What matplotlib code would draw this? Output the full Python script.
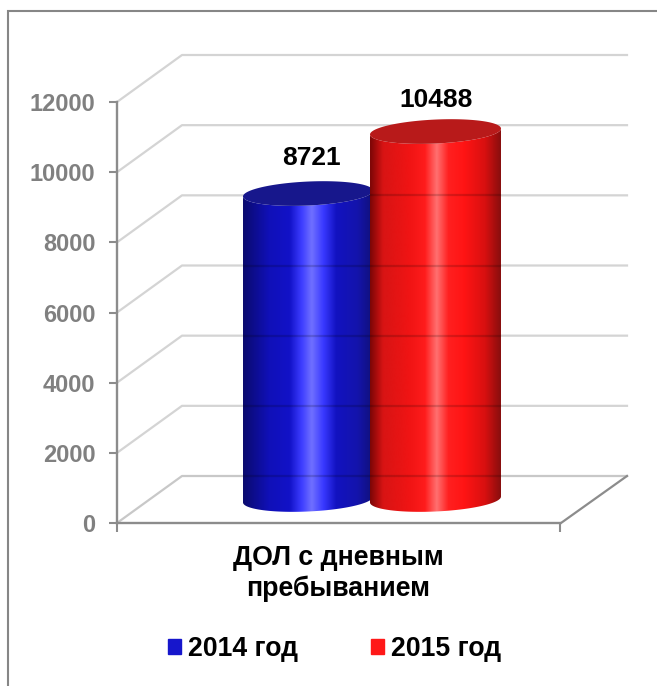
import numpy as np
import matplotlib
matplotlib.use("Agg")
import matplotlib.pyplot as plt
from matplotlib.colors import LinearSegmentedColormap
from matplotlib.patches import Patch, Polygon, Rectangle

# data
series = ["2014 год", "2015 год"]
values = [8721, 10488]
category = "ДОЛ с дневным\nпребыванием"
yticks = [0, 2000, 4000, 6000, 8000, 10000, 12000]

W, H = 657, 686
plt.rcParams["font.family"] = ["Liberation Sans", "DejaVu Sans"]
plt.rcParams["font.weight"] = "bold"

fig = plt.figure(figsize=(W / 100, H / 100), dpi=100)
ax = fig.add_axes([117 / W, 1 - 523 / H, 443 / W, 421 / H])
ax.set_xlim(117, 560)
ax.set_ylim(0, 12000)

# one pixel in value units, for the fake 3d depth
PX = 12000 / 421
dx = 65
dy = 47 * PX
GRID = "#d4d4d4"
AXIS = "#8c8c8c"

# back wall and floor
for v in yticks[1:]:
    ax.plot([117, 117 + dx, 117 + dx + 445], [v, v + dy, v + dy], color=GRID, lw=1.6,
            clip_on=False, zorder=1)
ax.plot([117, 117 + dx, 117 + dx + 445], [0, dy, dy], color="#c8c8c8", lw=1.6, clip_on=False, zorder=1)
ax.plot([117 + dx + 445, 561], [dy, 0], color="#8c8c8c", lw=1.6, clip_on=False, zorder=1)

# axes
for s in ["top", "right"]:
    ax.spines[s].set_visible(False)
for s in ["left", "bottom"]:
    ax.spines[s].set_color(AXIS)
    ax.spines[s].set_linewidth(1.7)
ax.patch.set_alpha(0)
ax.set_yticks(yticks)
ax.tick_params(axis="y", length=5.5, width=1.5, color=AXIS, labelcolor="#808080", labelsize=17, pad=10)
ax.set_xticks([117, 560])
ax.set_xticklabels(["", ""])
ax.tick_params(axis="x", which="major", length=6.5, width=1.5, color=AXIS)
ax.set_xticks([338], minor=True)
ax.set_xticklabels([category], minor=True, fontsize=19.3, color="black", linespacing=1.2)
ax.tick_params(axis="x", which="minor", length=0, pad=16)

# cylinders
blue = LinearSegmentedColormap.from_list("b", [(0, "#0b0b6e"), (0.2, "#1010b8"), (0.36, "#1212c8"),
                                               (0.45, "#3c3cff"), (0.53, "#7070ff"), (0.62, "#3838ff"),
                                               (0.72, "#1212c0"), (0.88, "#1414ac"), (1, "#10107a")])
red = LinearSegmentedColormap.from_list("r", [(0, "#7c0606"), (0.1, "#d81414"), (0.3, "#f01414"),
                                              (0.42, "#ff1c1c"), (0.51, "#ff7070"), (0.6, "#ff2020"),
                                              (0.72, "#ff1414"), (0.88, "#d81010"), (1, "#880e0e")])
cmaps = [blue, red]
lefts = [243, 370]
widths = [130, 131]
tops = ["#17178c", "#b81a1a"]
label_gap = [36, 32]
label_shift = [3, 1]
base = 23.5 * PX
b = 12 * PX
tilt = 0.045 * PX

for i, val in enumerate(values):
    x0, w = lefts[i], widths[i]
    cx = x0 + w / 2
    a = w / 2
    t = np.linspace(0, 2 * np.pi, 200)
    ex = cx + a * np.cos(t)
    rim = b * np.sin(t) + tilt * (ex - cx)
    front = t >= np.pi
    top_y = base + val
    # body outline: front of base rim, then front of top rim
    bx = np.r_[ex[front], ex[front][::-1]]
    by = np.r_[base + rim[front], top_y + rim[front][::-1]]
    body = Polygon(np.c_[bx, by], closed=True, transform=ax.transData, fc="none", ec="none")
    ax.add_patch(body)
    im = ax.imshow(np.linspace(0, 1, 256)[None, :], cmap=cmaps[i], extent=[x0, x0 + w, 0, 12000],
                   aspect="auto", zorder=3 + i, interpolation="bilinear")
    im.set_clip_path(body)
    # back wall lines show faintly through the bars
    for v in yticks:
        line, = ax.plot([x0, x0 + w], [v + dy, v + dy], color="black", alpha=0.16, lw=1.6, zorder=3.2 + i)
        line.set_clip_path(body)
    ax.fill(ex, top_y + rim, color=tops[i], lw=0, zorder=3.5 + i)
    ax.text(cx + label_shift[i], top_y + label_gap[i] * PX, str(val), ha="center", va="center", fontsize=19,
            color="black", zorder=6, clip_on=False)

ax.set_xlim(117, 560)
ax.set_ylim(0, 12000)

leg = fig.legend(handles=[Patch(color="#1616cc", label=series[0]), Patch(color="#ff1818", label=series[1])],
                 loc="center", bbox_to_anchor=(334.5 / W, 1 - 649 / H), ncol=2, frameon=False, fontsize=19.2,
                 handlelength=0.5, handleheight=0.5, handletextpad=0.25, columnspacing=2.75)

# outer border runs off the right and bottom of the picture
fig.add_artist(Rectangle((8 / W, -0.02), 1.02, 1.02 - 11 / H, transform=fig.transFigure, fc="none",
                         ec="#868686", lw=1.5))

fig.savefig("out.png", dpi=100)
